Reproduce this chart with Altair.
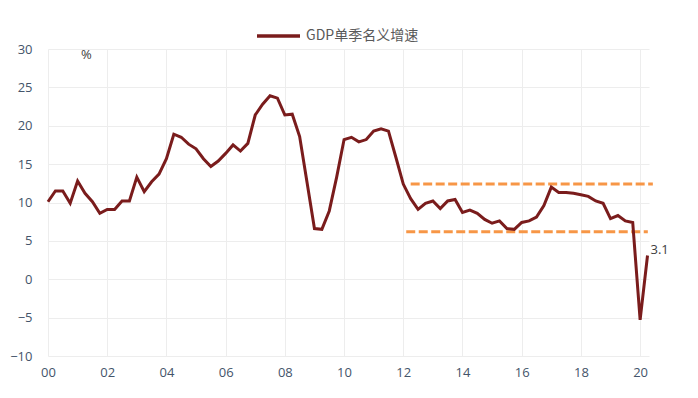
import altair as alt
import pandas as pd

# Quarterly GDP nominal growth (single quarter, y/y %), 2000Q1 - 2020Q2
values = [
    10.1, 11.5, 11.5, 9.9,    # 2000
    12.8, 11.2, 10.1, 8.6,    # 2001
    9.1, 9.1, 10.2, 10.2,     # 2002
    13.3, 11.4, 12.7, 13.7,   # 2003
    15.7, 18.9, 18.5, 17.6,   # 2004
    17.0, 15.7, 14.7, 15.4,   # 2005
    16.4, 17.5, 16.7, 17.7,   # 2006
    21.4, 22.8, 23.9, 23.6,   # 2007
    21.4, 21.5, 18.6, 12.6,   # 2008
    6.6, 6.5, 8.9, 13.3,      # 2009
    18.2, 18.5, 17.9, 18.2,   # 2010
    19.3, 19.6, 19.3, 15.9,   # 2011
    12.4, 10.5, 9.1, 9.9,     # 2012
    10.2, 9.2, 10.2, 10.4,    # 2013
    8.7, 9.0, 8.6, 7.8,       # 2014
    7.3, 7.6, 6.6, 6.5,       # 2015
    7.4, 7.6, 8.1, 9.6,       # 2016
    12.0, 11.3, 11.3, 11.2,   # 2017
    11.0, 10.8, 10.2, 9.9,    # 2018
    7.9, 8.3, 7.6, 7.4,       # 2019
    -5.3, 3.1,                # 2020
]
start_year = 2000
series_name = "GDP单季名义增速"

# reference band lines (start, end, level)
band_start = [2012.25, 2012.1]
band_end = [2020.43, 2020.26]
band_level = [12.4, 6.2]

x_ticks = list(range(2000, 2021, 2))
y_ticks = list(range(-10, 31, 5))

df = pd.DataFrame({
    "t": [start_year + i / 4 for i in range(len(values))],
    "v": values,
    "series": [series_name] * len(values),
})
bands = pd.DataFrame({"x": band_start, "x2": band_end, "y": band_level})
last = df.tail(1).assign(label=lambda d: d["v"].map(lambda v: f"{v:.1f}"))
unit = pd.DataFrame({"x": [2001.3], "y": [29.2], "label": ["%"]})

num_font = "Open Sans"
axis_color = "#44546A"

xscale = alt.Scale(domain=[2000, 2020.3], nice=False, zero=False)
yscale = alt.Scale(domain=[-10, 30], nice=False)

xaxis = alt.Axis(values=x_ticks, labelExpr="substring(toString(datum.value), 2, 4)",
                 title=None, grid=True, gridColor="#EDEDED", domain=False, ticks=False,
                 tickSize=0, labelPadding=10, labelFont=num_font, labelFontSize=13,
                 labelColor=axis_color, labelFlush=False, labelOverlap=False)
yaxis = alt.Axis(values=y_ticks, title=None, grid=True, gridColor="#EDEDED", domain=False,
                 ticks=False, tickSize=0, labelPadding=16, labelFont=num_font,
                 labelFontSize=13, labelColor=axis_color, labelOverlap=False,
                 labelFlush=False)

rules = alt.Chart(bands).mark_rule(color="#F79646", strokeWidth=3, strokeDash=[9, 3.5]).encode(
    x=alt.X("x:Q", scale=xscale, axis=xaxis),
    x2="x2:Q",
    y=alt.Y("y:Q", scale=yscale, axis=yaxis),
)

line = alt.Chart(df).mark_line(strokeWidth=3).encode(
    x=alt.X("t:Q", scale=xscale, axis=xaxis),
    y=alt.Y("v:Q", scale=yscale, axis=yaxis),
    color=alt.Color("series:N", scale=alt.Scale(range=["#7A1C1C"]), title=None,
                    legend=alt.Legend(orient="none", legendX=207, legendY=-36.5,
                                      symbolType="stroke", symbolSize=1849,
                                      symbolStrokeWidth=3.5, padding=0, labelOffset=4,
                                      labelFont="Noto Sans CJK SC", labelFontSize=14,
                                      labelColor="#595959")),
)

end_label = alt.Chart(last).mark_text(align="left", baseline="middle", dx=3, dy=-5,
                                      font=num_font, fontSize=13, color="#404040").encode(
    x=alt.X("t:Q", scale=xscale, axis=xaxis), y=alt.Y("v:Q", scale=yscale, axis=yaxis),
    text="label:N")

unit_label = alt.Chart(unit).mark_text(align="center", baseline="middle",
                                       font=num_font, fontSize=13, color="#404040").encode(
    x=alt.X("x:Q", scale=xscale, axis=xaxis), y=alt.Y("y:Q", scale=yscale, axis=yaxis),
    text="label:N")

chart = alt.layer(rules, line, end_label, unit_label).properties(
    width=601, height=307,
    autosize=alt.AutoSizeParams(type="none"),
    padding={"left": 40, "top": 41, "right": 40, "bottom": 30},
).configure_view(stroke=None)

chart.save("out.html", embed_options={"renderer": "svg", "actions": False})
